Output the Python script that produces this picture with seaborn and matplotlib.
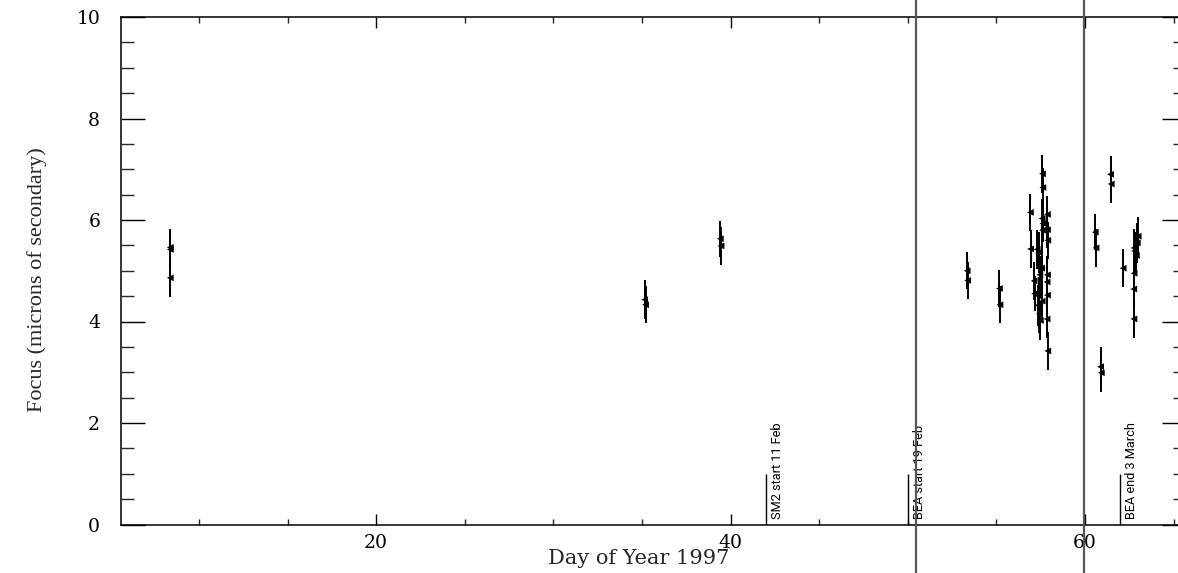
import matplotlib
matplotlib.use("Agg")
import matplotlib.pyplot as plt
import matplotlib.transforms as mtransforms
from matplotlib import font_manager
from matplotlib.ticker import MultipleLocator, FixedLocator
import numpy as np
import pandas as pd
import seaborn as sns

# Focus measurements: day of year, focus (microns of secondary), 1-sigma error
day = [8.38, 8.38, 8.38,
       35.15, 35.20,
       39.42, 39.46,
       53.35, 53.38,
       55.17, 55.20,
       56.92, 56.93, 57.13, 57.16,
       57.30, 57.38, 57.45, 57.40, 57.35, 57.42, 57.48,
       57.60, 57.62, 57.58, 57.63, 57.60, 57.55, 57.58,
       57.88, 57.88, 57.90, 57.88, 57.86, 57.88, 57.86, 57.90,
       60.58, 60.62,
       60.88, 60.92,
       61.44, 61.48,
       62.15,
       62.77, 62.80, 62.77, 62.75, 62.76, 63.00, 62.95, 62.90]
focus = [5.46, 5.42, 4.86,
         4.43, 4.33,
         5.63, 5.49,
         5.00, 4.81,
         4.65, 4.33,
         6.15, 5.43, 4.80, 4.55,
         5.42, 5.36, 4.92, 4.50, 4.32, 4.15, 4.02,
         6.91, 6.64, 6.03, 5.93, 5.80, 5.05, 4.40,
         6.11, 5.81, 5.60, 4.92, 4.78, 4.52, 4.05, 3.42,
         5.76, 5.45,
         3.11, 2.99,
         6.90, 6.71,
         5.05,
         5.45, 5.39, 4.95, 4.64, 4.05, 5.68, 5.55, 5.30]
focus_err = [0.37, 0.38, 0.37,
             0.38, 0.36,
             0.36, 0.37,
             0.36, 0.37,
             0.36, 0.36,
             0.36, 0.37, 0.37, 0.35,
             0.38, 0.40, 0.38, 0.37, 0.40, 0.38, 0.38,
             0.37, 0.38, 0.38, 0.37, 0.37, 0.40, 0.40,
             0.37, 0.36, 0.37, 0.38, 0.37, 0.38, 0.38, 0.37,
             0.36, 0.38,
             0.38, 0.37,
             0.37, 0.37,
             0.37,
             0.37, 0.38, 0.40, 0.40, 0.37, 0.37, 0.40, 0.38]

# Servicing-mission events marked along the bottom
event_days = [42, 50, 62]
event_labels = ["SM2 start 11 Feb", "BEA start 19 Feb", "BEA end 3 March"]
event_height = 1.0

# Full-height boundary lines
boundary_days = [50.47, 59.94]

x_ticks = [20, 40, 60]
y_ticks = [0, 2, 4, 6, 8, 10]

df = pd.DataFrame({"day": day, "focus": focus, "err": focus_err})

sns.set_theme(style="ticks")

available = {f.name for f in font_manager.fontManager.ttflist}


def pick(*names):
    for n in names:
        if n in available:
            return n
    return "DejaVu Sans"


serif = pick("DejaVu Serif", "Liberation Serif")
narrow_serif = pick("Liberation Serif", "DejaVu Serif")
narrow_sans = pick("Liberation Sans Narrow", "Roboto", "DejaVu Sans")

plt.rcParams["font.family"] = [serif, "DejaVu Sans"]

fig = plt.figure(figsize=(11.78, 5.73), dpi=100)
W, H = 1178, 573
ax = fig.add_axes([121 / W, (H - 524.5) / H, (1186 - 121) / W, (524.5 - 17) / H])

# Error bars and point markers
ax.errorbar(df["day"], df["focus"], yerr=df["err"], fmt="none",
            ecolor="black", elinewidth=1.4, capsize=0, zorder=3)
sns.scatterplot(data=df, x="day", y="focus", ax=ax, marker="<", s=24,
                color="black", edgecolor="none", linewidth=0, zorder=4,
                legend=False)

# Event markers with rotated captions
ax.vlines(event_days, 0, event_height, color="black", linewidth=1.0, zorder=3)
label_tf = mtransforms.offset_copy(ax.transData, fig=fig, x=5, y=0, units="dots")
for d, lab in zip(event_days, event_labels):
    ax.text(d, 0.11, lab, rotation=90, ha="left", va="bottom",
            transform=label_tf, fontsize=9.2, family=narrow_sans,
            fontstretch="condensed", color="black", zorder=5)

# Boundary lines running through the whole figure
for b in boundary_days:
    ax.axvline(b, ymin=-0.1, ymax=1.05, color="#555555", linewidth=1.6,
               clip_on=False, zorder=6)

ax.set_xlim(5.6, 65.7)
ax.set_ylim(0, 10)

ax.xaxis.set_major_locator(FixedLocator(x_ticks))
ax.xaxis.set_minor_locator(MultipleLocator(5))
ax.yaxis.set_major_locator(FixedLocator(y_ticks))
ax.yaxis.set_minor_locator(MultipleLocator(0.5))

ax.tick_params(axis="x", which="major", direction="in", length=8, width=1.0,
               top=True, bottom=True, pad=7, labelsize=13.5, colors="black")
ax.tick_params(axis="x", which="minor", direction="in", length=4.3, width=1.0,
               top=True, bottom=True)
ax.tick_params(axis="y", which="major", direction="in", length=17, width=1.0,
               left=True, right=True, pad=15, labelsize=13.5, colors="black")
ax.tick_params(axis="y", which="minor", direction="in", length=9.4, width=1.0,
               left=True, right=True)

for s in ax.spines.values():
    s.set_visible(True)
    s.set_color("black")
    s.set_linewidth(1.1)
# the right frame edge falls just past the saved canvas
ax.spines["right"].set_visible(False)

ax.set_xlabel("")
ax.set_ylabel("")
ax.grid(False)
ax.set_facecolor("white")
fig.patch.set_facecolor("white")

fig.text(639 / W, (H - 559) / H, "Day of Year 1997", ha="center", va="center",
         fontsize=15, family=serif)
fig.text(37.5 / W, (H - 280) / H, "Focus (microns of secondary)", rotation=90,
         ha="center", va="center", fontsize=16, family=narrow_serif)

fig.savefig("out.png", dpi=100)
